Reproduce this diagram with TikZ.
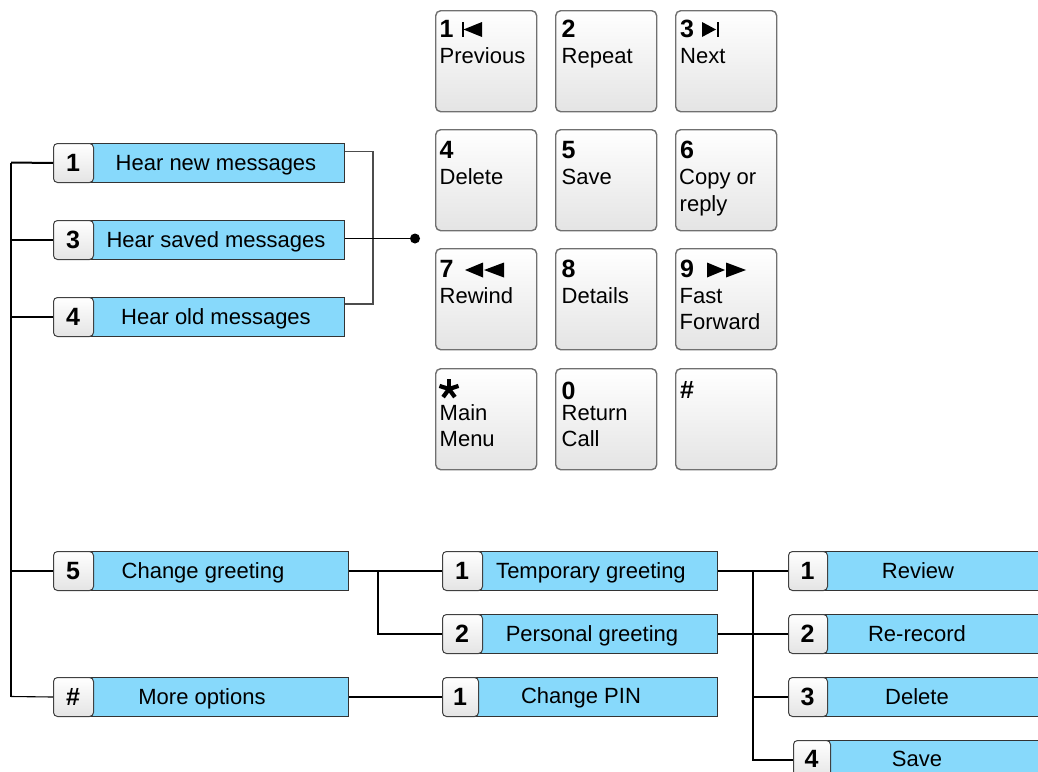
\documentclass[tikz,border=0pt]{standalone}
\usepackage{fontspec}
\setmainfont{Liberation Sans}
\usetikzlibrary{calc}
\definecolor{menublue}{RGB}{135,217,251}
\definecolor{keyline}{RGB}{112,112,112}
\definecolor{keybot}{RGB}{228,228,228}
\tikzset{
  padkey/.style={draw=keyline, line width=1.4pt, rounded corners=5pt, top color=white, bottom color=keybot,
    minimum width=101pt, minimum height=101pt, anchor=north west, inner sep=0pt},
  optkey/.style={draw=black!75, line width=1pt, rounded corners=4pt, top color=white, bottom color=keybot,
    minimum height=39pt, anchor=north west, inner sep=0pt},
  optbar/.style={draw=black!80, line width=1pt, fill=menublue, minimum height=39pt, anchor=north west, inner sep=0pt},
  optnum/.style={font=\fontsize{25}{29}\selectfont\bfseries, inner sep=0pt, anchor=base},
  optlabel/.style={font=\fontsize{22}{26}\selectfont, inner sep=0pt, anchor=base},
  padnum/.style={font=\fontsize{25}{29}\selectfont\bfseries, inner sep=0pt, anchor=base west},
  padtxt/.style={font=\fontsize{22}{26}\selectfont, inner sep=0pt, anchor=base west},
  wire/.style={draw=black, line width=1.1pt},
  bracketwire/.style={draw=black!70, line width=1.5pt},
  glyph/.style={fill=black},
}
\begin{document}
\begin{tikzpicture}[x=1pt, y=-1pt]
\useasboundingbox (0,0) rectangle (1038,771);
\clip (0,0) rectangle (1038,771);

% ---------- main menu options ----------
% row 1
\node[optbar, minimum width=271pt] (b1) at (73,143) {};
\node[optkey, minimum width=40pt] (k1) at (53,143) {};
\node[optnum] (n1) at (73,171.5) {1};
\node[optlabel] (t1) at (216,170.3) {Hear new messages};
% row 3
\node[optbar, minimum width=271pt] (b3) at (73,220) {};
\node[optkey, minimum width=40pt] (k3) at (53,220) {};
\node[optnum] (n3) at (73,248.5) {3};
\node[optlabel] (t3) at (216,247.3) {Hear saved messages};
% row 4
\node[optbar, minimum width=271pt] (b4) at (73,297) {};
\node[optkey, minimum width=40pt] (k4) at (53,297) {};
\node[optnum] (n4) at (73,325.5) {4};
\node[optlabel] (t4) at (216,324.3) {Hear old messages};
% row 5
\node[optbar, minimum width=275pt] (b5) at (73,551) {};
\node[optkey, minimum width=40pt] (k5) at (53,551) {};
\node[optnum] (n5) at (73,579.5) {5};
\node[optlabel] (t5) at (203,578.3) {Change greeting};
% row #
\node[optbar, minimum width=275pt] (b6) at (73,677) {};
\node[optkey, minimum width=40pt] (k6) at (53,677) {};
\node[optnum] (n6) at (73,705.5) {\#};
\node[optlabel] (t6) at (202,704.3) {More options};

% ---------- greeting submenu ----------
\node[optbar, minimum width=255pt] (b51) at (462,551) {};
\node[optkey, minimum width=40pt] (k51) at (442,551) {};
\node[optnum] (n51) at (462,579.5) {1};
\node[optlabel] (t51) at (591,578.3) {Temporary greeting};

\node[optbar, minimum width=255pt] (b52) at (462,614) {};
\node[optkey, minimum width=40pt] (k52) at (442,614) {};
\node[optnum] (n52) at (462,642.5) {2};
\node[optlabel] (t52) at (592,641.3) {Personal greeting};

\node[optbar, minimum width=257pt] (b61) at (460,677) {};
\node[optkey, minimum width=36pt] (k61) at (442,677) {};
\node[optnum] (n61) at (460,705.5) {1};
\node[optlabel] (t61) at (581,703.3) {Change PIN};

% ---------- record submenu (cut by the right edge) ----------
\node[optbar, minimum width=260pt] (r1) at (808,551) {};
\node[optkey, minimum width=39pt] (kr1) at (788,551) {};
\node[optnum] (nr1) at (807.5,579.5) {1};
\node[optlabel] (tr1) at (918,578.3) {Review};

\node[optbar, minimum width=260pt] (r2) at (808,614) {};
\node[optkey, minimum width=39pt] (kr2) at (788,614) {};
\node[optnum] (nr2) at (807.5,642.5) {2};
\node[optlabel] (tr2) at (917,641.3) {Re-record};

\node[optbar, minimum width=260pt] (r3) at (808,677) {};
\node[optkey, minimum width=39pt] (kr3) at (788,677) {};
\node[optnum] (nr3) at (807.5,705.5) {3};
\node[optlabel] (tr3) at (917,704.3) {Delete};

\node[optbar, minimum width=260pt] (r4) at (812,740) {};
\node[optkey, minimum width=37pt] (kr4) at (793,740) {};
\node[optnum] (nr4) at (811.5,767.5) {4};
\node[optlabel] (tr4) at (917,766.5) {Save};

% ---------- connectors ----------
\coordinate (trtop) at (11,162.5);
\coordinate (trbot) at (11,696.5);
\draw[wire, line width=1.4pt] (trtop) -- (trbot);
\draw[wire, line width=2pt] (trtop) -- (k1.west);
\draw[wire] (k3.west -| trtop) -- (k3.west);
\draw[wire] (k4.west -| trtop) -- (k4.west);
\draw[wire] (k5.west -| trtop) -- (k5.west);
\draw[wire] (trbot) -- (k6.west);

\node[circle, fill=black, inner sep=0pt, minimum size=10pt] (dot) at (415,238.5) {};
\draw[bracketwire] ([yshift=11.5pt]b1.east) -- ++(28,0) |- ([yshift=13pt]b4.east);
\draw[wire] (b3.east |- dot) -- (dot);

\coordinate (gb) at (378,570.5);
\draw[wire] (b5.east) -- (k51.west);
\draw[wire] (gb) |- (k52.west);
\draw[wire] (b6.east) -- (k61.west);

\coordinate (rb) at (753,570.5);
\draw[wire] (b51.east) -- (kr1.west);
\draw[wire] (b52.east) -- (kr2.west);
\draw[wire] (rb) |- (kr4.west);
\draw[wire] (kr3.west -| rb) -- (kr3.west);

% ---------- keypad ----------
\node[padkey] (p1) at (435,10) {};
\node[padkey] (p2) at (555,10) {};
\node[padkey] (p3) at (675,10) {};
\node[padkey] (p4) at (435,129) {};
\node[padkey] (p5) at (555,129) {};
\node[padkey] (p6) at (675,129) {};
\node[padkey] (p7) at (435,248) {};
\node[padkey] (p8) at (555,248) {};
\node[padkey] (p9) at (675,248) {};
\node[padkey] (ps) at (435,368) {};
\node[padkey] (p0) at (555,368) {};
\node[padkey] (ph) at (675,368) {};

% row 1
\node[padnum] (p1n) at (439.5,37.5) {1};
\node[padtxt] (p1a) at (439.5,63) {Previous};
\fill[glyph] (461.5,22) rectangle (463.5,37);
\fill[glyph] (463.5,29.5) -- (482,22) -- (482,37) -- cycle;
\node[padnum] (p2n) at (561.5,37.5) {2};
\node[padtxt] (p2a) at (561.5,63) {Repeat};
\node[padnum] (p3n) at (680,37.5) {3};
\node[padtxt] (p3a) at (680,63) {Next};
\fill[glyph] (702,22) -- (716,29.5) -- (702,37) -- cycle;
\fill[glyph] (716.5,22) rectangle (718.5,37);
% row 2
\node[padnum] (p4n) at (439.5,158) {4};
\node[padtxt] (p4a) at (439.5,184) {Delete};
\node[padnum] (p5n) at (561.5,158) {5};
\node[padtxt] (p5a) at (561.5,184) {Save};
\node[padnum] (p6n) at (680,158) {6};
\node[padtxt] (p6a) at (679,184) {Copy or};
\node[padtxt] (p6b) at (679.5,211) {reply};
% row 3
\node[padnum] (p7n) at (439.5,277.5) {7};
\fill[glyph] (465,270) -- (483,262.5) -- (483,277.5) -- cycle;
\fill[glyph] (484,270) -- (504,262.5) -- (504,277.5) -- cycle;
\node[padtxt] (p7a) at (439.5,303) {Rewind};
\node[padnum] (p8n) at (561.5,277.5) {8};
\node[padtxt] (p8a) at (561.5,303) {Details};
\node[padnum] (p9n) at (680,277.5) {9};
\fill[glyph] (707,262.5) -- (725,270) -- (707,277.5) -- cycle;
\fill[glyph] (726,262.5) -- (746,270) -- (726,277.5) -- cycle;
\node[padtxt] (p9a) at (679.5,303) {Fast};
\node[padtxt] (p9b) at (679.5,329) {Forward};
% row 4
\foreach \a in {-90,-18,-162,54,126}
  \draw[line width=4.2pt] (449,389) -- ++(\a:10);
\node[padtxt] (psa) at (439.5,420) {Main};
\node[padtxt] (psb) at (439.5,446) {Menu};
\node[padnum] (p0n) at (561.5,399.5) {0};
\node[padtxt] (p0a) at (561.5,420) {Return};
\node[padtxt] (p0b) at (561.5,446) {Call};
\node[padnum] (phn) at (680,398) {\#};
\end{tikzpicture}
\end{document}
